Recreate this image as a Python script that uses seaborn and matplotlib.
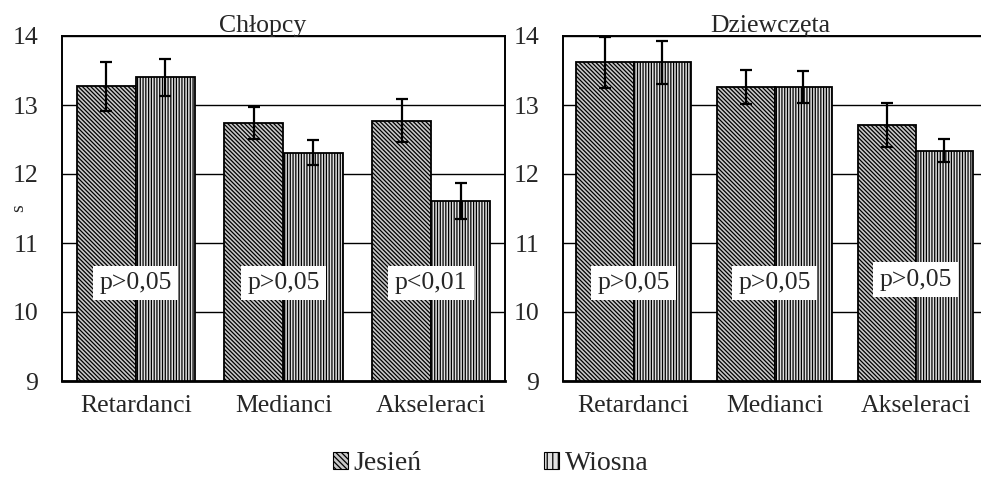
import matplotlib
matplotlib.use("Agg")
import matplotlib.pyplot as plt
from matplotlib.patches import Patch
import seaborn as sns
import pandas as pd

# ---- data ----
groups = ["Retardanci", "Medianci", "Akseleraci"]
seasons = ["Jesień", "Wiosna"]
boys_jesien = [13.27, 12.74, 12.77]
boys_wiosna = [13.40, 12.31, 11.61]
boys_jesien_err = [0.36, 0.23, 0.31]
boys_wiosna_err = [0.27, 0.18, 0.26]
girls_jesien = [13.62, 13.26, 12.71]
girls_wiosna = [13.62, 13.26, 12.34]
girls_jesien_err = [0.37, 0.25, 0.32]
girls_wiosna_err = [0.31, 0.23, 0.17]
boys_p = ["p>0,05", "p>0,05", "p<0,01"]
girls_p = ["p>0,05", "p>0,05", "p>0,05"]
p_y_boys = [10.42, 10.42, 10.42]
p_y_girls = [10.42, 10.42, 10.47]
titles = ["Chłopcy", "Dziewczęta"]
yticks = [9, 10, 11, 12, 13, 14]

sns.set_theme(style="white")
plt.rcParams["font.family"] = ["Liberation Serif", "DejaVu Serif"]
plt.rcParams["hatch.linewidth"] = 0.9
plt.rcParams["hatch.color"] = "black"

FS = 18.5
fig = plt.figure(figsize=(9.81, 4.79), dpi=100)
ax_l = fig.add_axes([62/981, 1-381/479, 443/981, 345/479])
ax_r = fig.add_axes([563/981, 1-381/479, 423/981, 345/479])

hatches = ["\\" * 8, "|" * 6]
faces = ["#c8c8c8", "#e0e0e0"]

panels = [
    (ax_l, boys_jesien, boys_wiosna, boys_jesien_err, boys_wiosna_err, boys_p, p_y_boys, 0.80, titles[0], 0.454),
    (ax_r, girls_jesien, girls_wiosna, girls_jesien_err, girls_wiosna_err, girls_p, p_y_girls, 0.82, titles[1], 0.49),
]

for ax, vj, vw, ej, ew, ptxt, py, w, title, tx in panels:
    df = pd.DataFrame({
        "grupa": groups * 2,
        "sezon": [seasons[0]] * 3 + [seasons[1]] * 3,
        "wartosc": vj + vw,
    })
    sns.barplot(data=df, x="grupa", y="wartosc", hue="sezon", order=groups,
                hue_order=seasons, errorbar=None, width=w, legend=False,
                palette=faces, edgecolor="black", linewidth=1.3, ax=ax, zorder=2)
    for cont, h, errs, vals in zip(ax.containers, hatches, [ej, ew], [vj, vw]):
        xs = []
        for bar in cont:
            bar.set_hatch(h)
            bar.set_edgecolor("black")
            xs.append(bar.get_x() + bar.get_width() / 2)
        ax.errorbar(xs, vals, yerr=errs, fmt="none", ecolor="black",
                    elinewidth=1.6, capsize=4.2, capthick=1.6, zorder=4)
    for i, t in enumerate(ptxt):
        ax.text(i, py[i], t, ha="center", va="center", fontsize=FS, zorder=5,
                bbox=dict(boxstyle="square,pad=0.25", facecolor="white", edgecolor="none"))
    ax.set_ylim(9, 14)
    ax.set_xlim(-0.5, 2.5)
    ax.set_yticks(yticks)
    ax.set_yticklabels([str(v) for v in yticks], fontsize=FS)
    ax.yaxis.grid(True, color="black", linewidth=1.0, zorder=0)
    ax.set_axisbelow(True)
    ax.set_xticks([-0.5, 0.5, 1.5])
    ax.set_xticklabels([])
    ax.set_xticks([0, 1, 2], minor=True)
    ax.set_xticklabels(groups, minor=True, fontsize=FS)
    ax.tick_params(axis="x", which="minor", length=0, pad=10)
    ax.tick_params(axis="x", which="major", length=5, width=1.2, direction="out", color="black")
    ax.tick_params(axis="y", length=5, width=1.2, direction="out", color="black", pad=12)
    ax.set_xlabel("")
    ax.set_ylabel("")
    for s in ax.spines.values():
        s.set_color("black")
        s.set_linewidth(1.4)
    ax.spines["bottom"].set_linewidth(2.0)
    ax.set_title(title, fontsize=FS, x=tx, pad=3)

ax_l.set_ylabel("s", fontsize=14)
ax_l.yaxis.set_label_coords(-0.078, 0.5)

handles = [Patch(facecolor=faces[0], edgecolor="black", hatch="\\" * 6, linewidth=0.8),
           Patch(facecolor=faces[1], edgecolor="black", hatch="|||", linewidth=0.8)]
fig.legend(handles, seasons, loc="center", bbox_to_anchor=(0.5, 1-464/479), ncol=2,
           frameon=False, fontsize=20, handlelength=0.55, handleheight=0.55,
           handletextpad=0.2, columnspacing=4.4)

fig.savefig("out.png", dpi=100, facecolor="white")
